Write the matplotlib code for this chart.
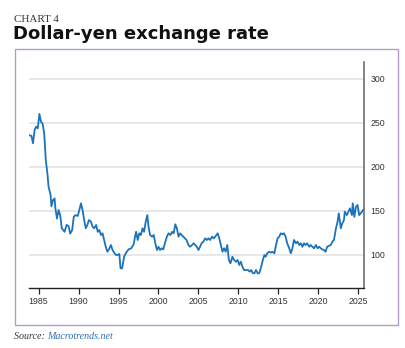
import matplotlib
matplotlib.use("Agg")
import matplotlib.pyplot as plt
from matplotlib.patches import Rectangle

# ---- data ----
years = [1983.75, 1984.1, 1984.3, 1984.5, 1984.7, 1984.9, 1985.1, 1985.3, 1985.5, 1985.7,
         1985.9, 1986.1, 1986.25, 1986.5, 1986.6, 1986.8, 1987.0, 1987.1, 1987.3, 1987.5,
         1987.7, 1987.9, 1988.25, 1988.5, 1988.75, 1988.95, 1989.2, 1989.4, 1989.6, 1989.9,
         1990.1, 1990.3, 1990.5, 1990.7, 1990.9, 1991.1, 1991.3, 1991.55, 1991.75, 1991.95,
         1992.2, 1992.4, 1992.6, 1992.8, 1993.0, 1993.2, 1993.4, 1993.6, 1993.8, 1994.05,
         1994.25, 1994.5, 1994.7, 1994.9, 1995.1, 1995.25, 1995.45, 1995.7, 1995.9, 1996.25,
         1996.6, 1996.9, 1997.1, 1997.2, 1997.4, 1997.6, 1997.8, 1998.0, 1998.2, 1998.4,
         1998.6, 1998.75, 1998.95, 1999.2, 1999.4, 1999.6, 1999.8, 2000.0, 2000.2, 2000.4,
         2000.6, 2000.8, 2001.05, 2001.25, 2001.5, 2001.7, 2001.9, 2002.1, 2002.3, 2002.5,
         2002.7, 2002.9, 2003.1, 2003.3, 2003.5, 2003.75, 2003.95, 2004.2, 2004.4, 2004.6,
         2004.8, 2005.0, 2005.2, 2005.4, 2005.6, 2005.85, 2006.05, 2006.25, 2006.45, 2006.7,
         2006.9, 2007.1, 2007.4, 2007.6, 2007.8, 2008.0, 2008.2, 2008.4, 2008.6, 2008.8,
         2009.0, 2009.25, 2009.45, 2009.7, 2009.9, 2010.1, 2010.3, 2010.5, 2010.7, 2010.9,
         2011.2, 2011.4, 2011.6, 2011.8, 2012.0, 2012.2, 2012.4, 2012.6, 2012.85, 2013.05,
         2013.25, 2013.4, 2013.6, 2013.85, 2014.05, 2014.25, 2014.5, 2014.7, 2014.9, 2015.1,
         2015.3, 2015.5, 2015.7, 2015.9, 2016.1, 2016.35, 2016.55, 2016.75, 2016.95, 2017.2,
         2017.4, 2017.6, 2017.8, 2018.0, 2018.2, 2018.4, 2018.6, 2018.85, 2019.05, 2019.25,
         2019.45, 2019.7, 2019.9, 2020.1, 2020.3, 2020.5, 2020.7, 2020.9, 2021.1, 2021.3,
         2021.55, 2021.75, 2021.95, 2022.2, 2022.4, 2022.55, 2022.7, 2022.8, 2023.0, 2023.2,
         2023.3, 2023.55, 2023.75, 2023.95, 2024.2, 2024.3, 2024.5, 2024.7, 2024.9, 2025.1,
         2025.3, 2025.6]
rates = [236, 235, 226.6, 241.7, 245.5, 243.6, 260, 251, 249, 238,
         207.6, 192.5, 177, 168, 155, 162, 164, 152.7, 141, 150.8,
         145, 130, 126, 133.8, 132.6, 124, 128, 143, 145, 144,
         150.8, 158.4, 150.8, 139.4, 130, 133.8, 139.4, 137.5, 131.8, 130,
         133.8, 126, 128, 122.4, 124.3, 116.7, 109, 103.4, 106, 111,
         105.3, 101.6, 99.7, 99.7, 100.8, 84.5, 84.5, 97.7, 101.6, 106,
         107.3, 112, 122.4, 126, 116.7, 124.3, 122.4, 130, 126, 137.5,
         145, 131.8, 122.4, 120.5, 122.4, 113, 105.3, 109, 105.3, 107.3,
         106, 113, 120.5, 124.3, 122.4, 126, 124.3, 134.5, 130, 120.5,
         124.3, 122.4, 120.5, 118.6, 116.7, 111, 109, 111, 113, 111,
         109, 105.3, 109, 113, 114.8, 118.6, 116.7, 118.6, 116.7, 120.5,
         118.6, 120.5, 124.3, 118.6, 111, 103.4, 107.3, 103.4, 111, 94,
         90.2, 97.7, 94, 92, 94, 88.3, 92, 86.4, 82.6, 82.6,
         82.6, 80.7, 82.6, 78.9, 78.9, 82.6, 78.9, 78.9, 86.4, 94,
         99.7, 97.7, 101.6, 103.4, 102.3, 103.4, 101.6, 111, 118.6, 120.5,
         124.3, 123.2, 124.3, 120.5, 113, 107.3, 101.6, 107.3, 116.7, 113,
         114.8, 111, 113, 109, 113, 111, 113, 109, 111, 109,
         107.3, 111, 107.3, 109, 107.3, 106, 105.3, 103.4, 109, 110,
         111, 114.8, 116.7, 130, 137.5, 147, 137.5, 130, 135.7, 139.4,
         148.9, 145, 148.9, 152.7, 145, 158.4, 143, 154.5, 156.5, 145,
         147, 150.8]
xticks = [1985, 1990, 1995, 2000, 2005, 2010, 2015, 2020, 2025]
yticks = [100, 150, 200, 250, 300]

W, H = 406, 348
fig = plt.figure(figsize=(W / 100, H / 100), dpi=100)

def fx(px):
    return px / W

def fy(py):
    return 1 - py / H

# purple frame
fig.patches.append(Rectangle((fx(14.7), fy(325)), fx(397.7) - fx(14.7), fy(48.5) - fy(325),
                             transform=fig.transFigure, fill=False,
                             edgecolor="#b39ccb", linewidth=1.0, zorder=0))

ax = fig.add_axes([fx(29), fy(287.7), fx(363.7) - fx(29), fy(62.3) - fy(287.7)])
ax.plot(years, rates, color="#1a73bb", linewidth=1.3, solid_joinstyle="round", zorder=3)

ax.set_xlim(1983.8, 2025.67)
ax.set_ylim(62.5, 318.6)
ax.set_xticks(xticks)
ax.set_yticks(yticks)
ax.yaxis.tick_right()
ax.grid(axis="y", color="#e4e4e4", linewidth=1.2)
ax.set_axisbelow(True)
for s in ["top", "left"]:
    ax.spines[s].set_visible(False)
ax.spines["bottom"].set_color("#222222")
ax.spines["bottom"].set_linewidth(1.0)
ax.spines["right"].set_color("#7a7a7a")
ax.spines["right"].set_linewidth(1.3)
ax.tick_params(axis="x", direction="out", length=4, width=0.9, color="#222222",
               labelsize=6.3, labelcolor="#333333", pad=3)
ax.tick_params(axis="y", length=0, labelsize=6.3, labelcolor="#333333", pad=5)
for lab in ax.get_xticklabels() + ax.get_yticklabels():
    lab.set_family("Liberation Sans")

fig.text(fx(14), fy(21.6), "CHART 4", family="Liberation Serif", fontsize=7.9,
         color="#333333", ha="left", va="baseline")
fig.text(fx(13.5), fy(38.8), "Dollar-yen exchange rate", family="DejaVu Sans",
         fontweight="bold", fontsize=13.0, color="#111111", ha="left", va="baseline")

t1 = fig.text(fx(14), fy(339), "Source: ", family="Liberation Serif", style="italic",
              fontsize=7.2, color="#333333", ha="left", va="baseline")
fig.canvas.draw()
bb = t1.get_window_extent()
fig.text(bb.x1 / W, fy(339), "Macrotrends.net", family="Liberation Serif", style="italic",
         fontsize=7.2, color="#2e6db4", ha="left", va="baseline")

fig.savefig("out.png", dpi=100)
